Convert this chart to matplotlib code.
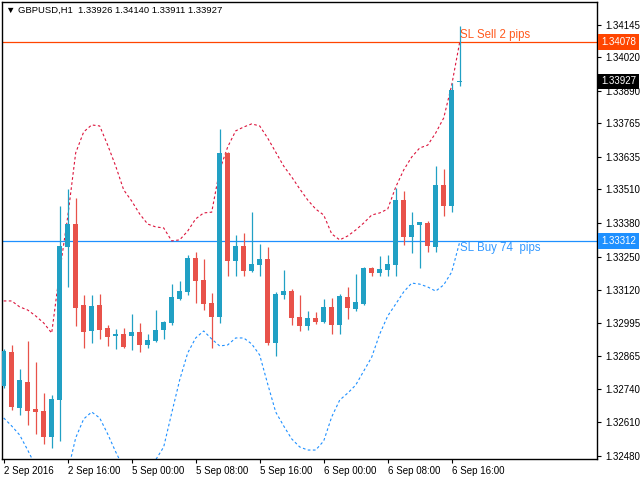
import matplotlib
matplotlib.use("Agg")
import matplotlib.pyplot as plt
import matplotlib.transforms as mtransforms
import numpy as np

plt.rcParams['font.family'] = ['Liberation Sans', 'DejaVu Sans']

# GBPUSD H1 candles, 2 Sep 2016 08:00 .. 6 Sep 2016 17:00
opens = [1.32750, 1.32882, 1.32666, 1.32766, 1.32662, 1.32654, 1.32553, 1.32696, 1.33287, 1.33376,
         1.33063, 1.32963, 1.33063, 1.32975, 1.32944, 1.32951, 1.32944, 1.32959, 1.32909, 1.32924,
         1.32967, 1.32994, 1.33087, 1.33114, 1.33245, 1.33160, 1.33071, 1.33017, 1.33651, 1.33233,
         1.33291, 1.33195, 1.33218, 1.33241, 1.32917, 1.33102, 1.33117, 1.33017, 1.32982, 1.33013,
         1.32998, 1.33056, 1.32986, 1.33094, 1.33048, 1.33067, 1.33206, 1.33187, 1.33199, 1.33218,
         1.33469, 1.33326, 1.33372, 1.33380, 1.33287, 1.33527, 1.33446, 1.33926]
highs = [1.32893, 1.32909, 1.32816, 1.32924, 1.32843, 1.32723, 1.32716, 1.33446, 1.33511, 1.33477,
         1.33102, 1.33102, 1.33106, 1.32986, 1.32971, 1.32975, 1.33029, 1.32994, 1.32951, 1.33044,
         1.33002, 1.33144, 1.33156, 1.33257, 1.33268, 1.33241, 1.33110, 1.33743, 1.33655, 1.33334,
         1.33342, 1.33423, 1.33299, 1.33287, 1.33114, 1.33199, 1.33125, 1.33102, 1.33040, 1.33036,
         1.33087, 1.33090, 1.33106, 1.33133, 1.33183, 1.33210, 1.33210, 1.33253, 1.33257, 1.33515,
         1.33504, 1.33423, 1.33384, 1.33388, 1.33600, 1.33589, 1.33921, 1.34140]
lows = [1.32743, 1.32658, 1.32638, 1.32600, 1.32565, 1.32526, 1.32511, 1.32538, 1.33133, 1.32982,
        1.32897, 1.32917, 1.32932, 1.32905, 1.32893, 1.32897, 1.32890, 1.32882, 1.32897, 1.32920,
        1.32932, 1.32986, 1.33083, 1.33102, 1.33071, 1.33044, 1.32897, 1.32994, 1.33176, 1.33176,
        1.33176, 1.33191, 1.33176, 1.32909, 1.32866, 1.33087, 1.32986, 1.32963, 1.32967, 1.32990,
        1.32994, 1.32951, 1.32951, 1.33009, 1.33040, 1.33063, 1.33176, 1.33176, 1.33176, 1.33176,
        1.33295, 1.33264, 1.33206, 1.33268, 1.33268, 1.33407, 1.33423, 1.33911]
closes = [1.32886, 1.32669, 1.32774, 1.32654, 1.32650, 1.32553, 1.32700, 1.33291, 1.33376, 1.33052,
          1.32959, 1.33060, 1.32967, 1.32940, 1.32951, 1.32901, 1.32959, 1.32909, 1.32928, 1.32967,
          1.32998, 1.33094, 1.33117, 1.33245, 1.33156, 1.33067, 1.33017, 1.33651, 1.33233, 1.33291,
          1.33195, 1.33222, 1.33241, 1.32917, 1.33106, 1.33117, 1.33013, 1.32982, 1.33013, 1.32998,
          1.33056, 1.32986, 1.33098, 1.33052, 1.33075, 1.33206, 1.33187, 1.33202, 1.33222, 1.33469,
          1.33326, 1.33372, 1.33384, 1.33291, 1.33527, 1.33446, 1.33894, 1.33927]

# envelope bands (dashed)
upper = [1.33079, 1.33079, 1.33056, 1.33044, 1.33021, 1.32994, 1.32955, 1.33191, 1.33403, 1.33651,
         1.33732, 1.33759, 1.33755, 1.33681, 1.33600, 1.33508, 1.33465, 1.33415, 1.33376, 1.33365,
         1.33361, 1.33311, 1.33315, 1.33349, 1.33396, 1.33419, 1.33422, 1.33585, 1.33674, 1.33736,
         1.33751, 1.33763, 1.33755, 1.33708, 1.33654, 1.33600, 1.33558, 1.33512, 1.33469, 1.33434,
         1.33411, 1.33338, 1.33315, 1.33330, 1.33353, 1.33380, 1.33411, 1.33419, 1.33434, 1.33519,
         1.33585, 1.33635, 1.33670, 1.33681, 1.33728, 1.33786, 1.33913, 1.34079]
lower = [1.32627, 1.32596, 1.32561, 1.32503, 1.32441, 1.32387, 1.32349, 1.32349, 1.32418, 1.32550,
         1.32623, 1.32650, 1.32627, 1.32565, 1.32496, 1.32434, 1.32395, 1.32387, 1.32418, 1.32465,
         1.32515, 1.32646, 1.32774, 1.32878, 1.32936, 1.32963, 1.32932, 1.32905, 1.32909, 1.32936,
         1.32936, 1.32913, 1.32870, 1.32758, 1.32650, 1.32596, 1.32546, 1.32515, 1.32503, 1.32503,
         1.32538, 1.32631, 1.32696, 1.32723, 1.32754, 1.32808, 1.32862, 1.32951, 1.33021, 1.33067,
         1.33114, 1.33148, 1.33144, 1.33133, 1.33117, 1.33141, 1.33191, 1.33307]

sl_sell = 1.34078
sl_buy = 1.33312
bid = 1.33927

ytick_vals = [1.34145, 1.34020, 1.33890, 1.33765, 1.33635, 1.33510, 1.33380,
              1.33250, 1.33120, 1.32995, 1.32865, 1.32740, 1.32610, 1.32480]
xtick_pos = [0, 8, 16, 24, 32, 40, 48, 56]
xtick_labels = ['2 Sep 2016', '2 Sep 16:00', '5 Sep 00:00', '5 Sep 08:00',
                '5 Sep 16:00', '6 Sep 00:00', '6 Sep 08:00', '6 Sep 16:00']

bull = '#21a0c4'
bear = '#e8524a'

fig = plt.figure(figsize=(6.4, 4.8), dpi=100)
ax = fig.add_axes([2 / 640, 21 / 480, 595 / 640, 457 / 480])

idx = np.arange(len(opens))
o = np.array(opens)
c = np.array(closes)
cols = [bull if cc >= oo else bear for oo, cc in zip(o, c)]

ax.vlines(idx, lows, highs, colors=cols, linewidth=0.9, zorder=3)
body_h = np.maximum(np.abs(c - o), 0.00004)
ax.bar(idx, body_h, bottom=np.minimum(o, c), width=0.62, color=cols, linewidth=0, zorder=4)

ax.plot(idx, upper, color='#dc143c', linestyle=(0, (2.4, 2.2)), linewidth=0.8, zorder=2)
ax.plot(idx, lower, color='#1e90ff', linestyle=(0, (2.4, 2.2)), linewidth=0.8, zorder=2)

ax.axhline(sl_sell, color='#ff4500', linewidth=0.9, zorder=1)
ax.axhline(sl_buy, color='#1e90ff', linewidth=0.9, zorder=1)
ax.text(57, sl_sell + 0.00006, 'SL Sell 2 pips', color='#ff5a1f', fontsize=8.3,
        ha='left', va='bottom', zorder=5)
ax.text(57, sl_buy - 0.00006, 'SL Buy 74  pips', color='#3399ff', fontsize=8.3,
        ha='left', va='top', zorder=5)

ax.set_xlim(-0.21, 74.16)
ax.set_ylim(1.324684, 1.342339)

ax.yaxis.tick_right()
ax.set_yticks(ytick_vals)
ax.set_yticklabels(['%.5f' % v for v in ytick_vals])
ax.set_xticks(xtick_pos)
ax.set_xticklabels(xtick_labels)
for lbl in ax.get_xticklabels():
    lbl.set_ha('left')
ax.tick_params(axis='both', direction='out', length=3, width=0.8, labelsize=7, colors='black')
ax.tick_params(axis='y', pad=3)
ax.tick_params(axis='x', pad=2)
for sp in ax.spines.values():
    sp.set_color('black')
    sp.set_linewidth(1.0)

# price tags on the right scale
trans = mtransforms.blended_transform_factory(ax.transAxes, ax.transData)
for val, bg in [(sl_sell, '#ff4500'), (bid, '#000000'), (sl_buy, '#1e90ff')]:
    ax.text(1.0 + 4 / 595, val, '%.5f' % val, transform=trans, color='white', fontsize=7,
            ha='left', va='center', clip_on=False, zorder=10,
            bbox=dict(boxstyle='square,pad=0.3', facecolor=bg, edgecolor='none'))

fig.text(6 / 640, 1 - 10 / 480, '\u25bc GBPUSD,H1  1.33926 1.34140 1.33911 1.33927',
         fontsize=6.8, ha='left', va='center', color='black')

fig.savefig('out.png', dpi=100)
